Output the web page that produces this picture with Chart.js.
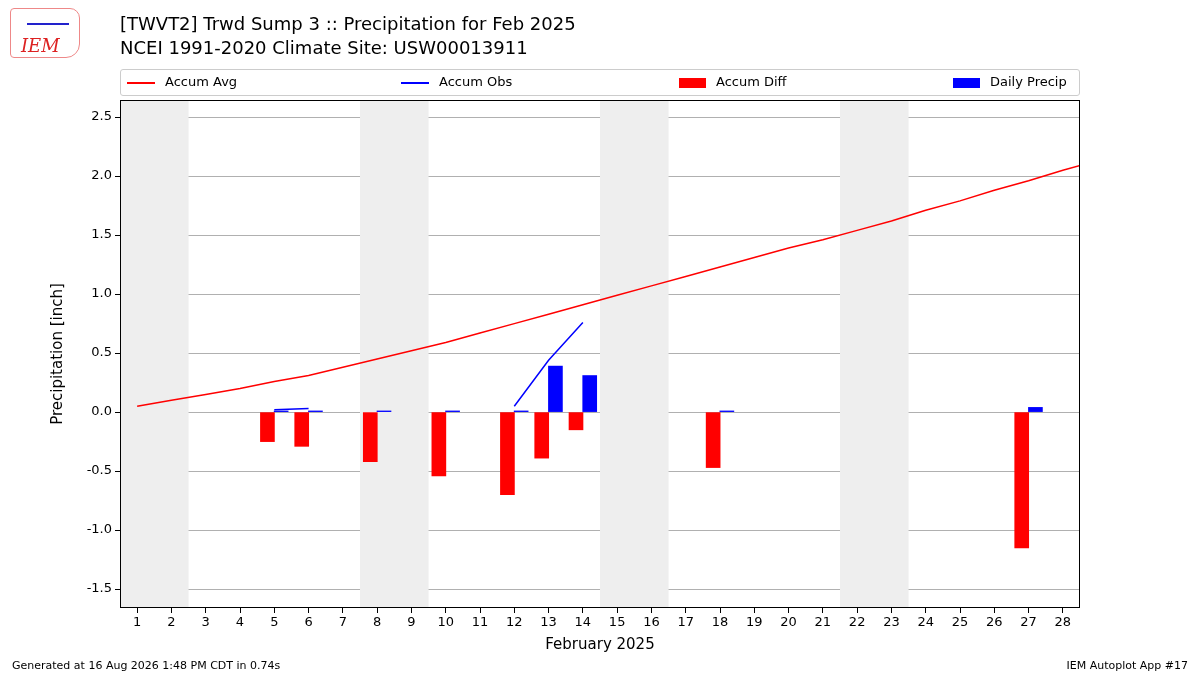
<!DOCTYPE html>
<html><head><meta charset="utf-8">
<script src="https://cdn.jsdelivr.net/npm/chart.js@4"></script>
<style>
body{margin:0;width:1200px;height:675px;position:relative;background:#fff;font-family:"DejaVu Sans",sans-serif;overflow:hidden}
#c{position:absolute;left:0;top:0}
.t{position:absolute;font-size:18px;color:#000;left:120px}
#legend{position:absolute;left:120px;top:69px;width:958px;height:25px;border:1px solid #ccc;border-radius:3px;font-size:13px}
.li{position:absolute;top:4px;white-space:nowrap}
.ln{display:inline-block;width:28px;height:2px;vertical-align:middle;margin-right:10px}
.bx{display:inline-block;width:27px;height:10px;vertical-align:middle;margin-right:10px}
.f{position:absolute;top:659px;font-size:11px}
</style></head><body>
<canvas id="c" width="1200" height="675"></canvas>
<div style="position:absolute;left:10px;top:8px;width:68px;height:48px;border:1px solid #e88;border-radius:4px 10px 14px 4px;color:#d22;font:italic 18px 'DejaVu Serif',serif;"><span style="position:absolute;left:10px;top:26px">IEM</span><span style="position:absolute;left:16px;top:14px;width:42px;height:2px;background:#22c"></span></div>
<div class="t" style="top:13px">[TWVT2] Trwd Sump 3 :: Precipitation for Feb 2025</div>
<div class="t" style="top:37px">NCEI 1991-2020 Climate Site: USW00013911</div>
<div id="legend">
<div class="li" style="left:6px"><span class="ln" style="background:#f00"></span>Accum Avg</div>
<div class="li" style="left:280px"><span class="ln" style="background:#00f"></span>Accum Obs</div>
<div class="li" style="left:558px"><span class="bx" style="background:#f00"></span>Accum Diff</div>
<div class="li" style="left:832px"><span class="bx" style="background:#00f"></span>Daily Precip</div>
</div>
<div class="f" style="left:12px">Generated at 16 Aug 2026 1:48 PM CDT in 0.74s</div>
<div class="f" style="right:12px">IEM Autoplot App #17</div>
<script>
const days=[1,2,3,4,5,6,7,8,9,10,11,12,13,14,15,16,17,18,19,20,21,22,23,24,25,26,27,28,29];
const accumAvg=[0.05,0.10,0.15,0.20,0.26,0.31,0.38,0.45,0.52,0.59,0.67,0.75,0.83,0.91,0.99,1.07,1.15,1.23,1.31,1.39,1.46,1.54,1.62,1.71,1.79,1.88,1.96,2.05,2.13];
const obsDays=[5,6,null,12,13,14];
const accumObs=[0.02,0.03,null,0.05,0.44,0.76];
const precipDays=[5,6,8,10,12,13,14,18,27];
const accumDiff=[-0.25,-0.29,-0.42,-0.54,-0.70,-0.39,-0.15,-0.47,-1.15];
const dailyPrecip=[0.01,0.01,0.01,0.01,0.01,0.39,0.31,0.01,0.04];
const weekends=[[0.5,2.5],[7.5,9.5],[14.5,16.5],[21.5,23.5]];
const yTicks=[-1.5,-1.0,-0.5,0.0,0.5,1.0,1.5,2.0,2.5];

const shade={id:'shade',beforeDatasetsDraw(ch){const {ctx,chartArea:a,scales:{x}}=ch;ctx.save();ctx.fillStyle='#eeeeee';
weekends.forEach(w=>{ctx.fillRect(x.getPixelForValue(w[0]),a.top,x.getPixelForValue(w[1])-x.getPixelForValue(w[0]),a.bottom-a.top);});ctx.restore();},
afterDraw(ch){const {ctx,chartArea:a}=ch;ctx.save();ctx.strokeStyle='#000';ctx.lineWidth=1;ctx.strokeRect(a.left+0.5,a.top+0.5,a.right-a.left-1,a.bottom-a.top-1);ctx.restore();}};

new Chart(document.getElementById('c'),{
 data:{datasets:[
  {type:'line',data:days.map((d,i)=>({x:d,y:accumAvg[i]})),borderColor:'#f00',borderWidth:1.5,pointRadius:0,order:1},
  {type:'line',data:obsDays.map((d,i)=>({x:d,y:accumObs[i]})),borderColor:'#00f',borderWidth:1.5,pointRadius:0,spanGaps:false,order:1},
  {type:'bar',grouped:false,data:precipDays.map((d,i)=>({x:d-0.2,y:accumDiff[i]})),backgroundColor:'#f00',barThickness:14,order:2},
  {type:'bar',grouped:false,data:precipDays.map((d,i)=>({x:d+0.2,y:dailyPrecip[i]})),backgroundColor:'#00f',barThickness:14,order:2}
 ]},
 options:{responsive:false,animation:false,events:[],
  layout:{padding:{left:45,top:100,right:120,bottom:17}},
  plugins:{legend:{display:false},tooltip:{enabled:false}},
  scales:{
   x:{type:'linear',min:0.5,max:28.5,offset:false,grid:{display:true,offset:false,color:'rgba(0,0,0,0)',drawTicks:true,tickColor:'#000',tickLength:5},border:{display:false},
     afterBuildTicks(s){s.ticks=days.slice(0,28).map(v=>({value:v}));},
     afterFit(s){s.height=50;},
     ticks:{color:'#000',font:{family:'DejaVu Sans',size:13},autoSkip:false,maxRotation:0,padding:2},
     title:{display:true,text:'February 2025',color:'#000',font:{family:'DejaVu Sans',size:15},padding:{top:2}}},
   y:{min:-1.66,max:2.645,afterBuildTicks(s){s.ticks=yTicks.map(v=>({value:v}));},
     afterFit(s){s.width=75;},
     grid:{color:'#b0b0b0',drawTicks:true,tickColor:'#000',tickLength:5},border:{display:false},
     ticks:{color:'#000',font:{family:'DejaVu Sans',size:13},callback:v=>v.toFixed(1)},
     title:{display:true,text:'Precipitation [inch]',color:'#000',font:{family:'DejaVu Sans',size:15}}}
  }},
 plugins:[shade]
});
</script></body></html>
